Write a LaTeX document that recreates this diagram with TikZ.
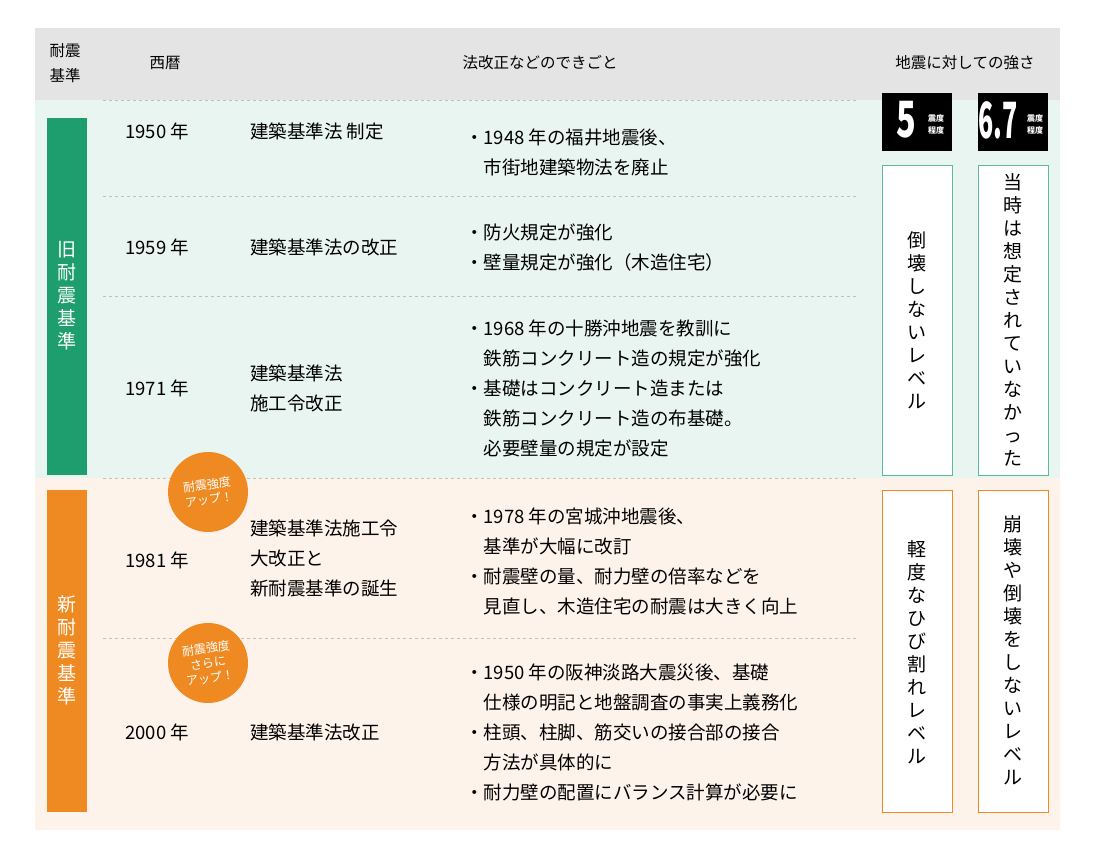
\documentclass[tikz,border=0pt]{standalone}
\usepackage{fontspec}
\setmainfont{Noto Sans CJK JP}
\usetikzlibrary{calc}
\definecolor{oldgreen}{HTML}{1E9E6E}
\definecolor{oldbg}{HTML}{E8F5F0}
\definecolor{newor}{HTML}{EF8A22}
\definecolor{newbg}{HTML}{FDF3EA}
\definecolor{headgray}{HTML}{E4E4E4}
\definecolor{boxgreen}{HTML}{5DBB93}
\tikzset{
  txt/.style={anchor=west,inner sep=0pt,font=\fontsize{18.5}{30}\selectfont,align=left},
  head/.style={inner sep=0pt,font=\fontsize{15.5}{25}\selectfont,align=center},
  bartxt/.style={inner sep=0pt,text=white,font=\fontsize{19}{23}\selectfont,align=center},
  vtxt/.style={inner sep=0pt,font=\fontsize{19}{23}\selectfont,align=center},
  badge/.style={circle,fill=newor,minimum size=80pt,inner sep=0pt,text=white,
    font=\fontsize{12}{15}\selectfont,align=center,rotate=8},
  sep/.style={dashed,draw=gray!50,line width=0.6pt},
  magbox/.style={fill=black,minimum width=70pt,minimum height=58pt,inner sep=0pt},
}
\begin{document}
\begin{tikzpicture}[x=1pt,y=-1pt]
\useasboundingbox (0,0) rectangle (1095,859);
% backgrounds
\fill[headgray] (35,28) rectangle (1060,100);
\fill[oldbg] (35,100) rectangle (1060,478);
\fill[newbg] (35,478) rectangle (1060,830);
\fill[oldgreen] (47,118) rectangle (87,475);
\fill[newor] (47,490) rectangle (87,812);
\node[bartxt] (oldlbl) at (67,296) {旧\\耐\\震\\基\\準};
\node[bartxt] (newlbl) at (67,650) {新\\耐\\震\\基\\準};
% header
\node[head] (hkind) at (65,63) {耐震\\基準};
\node[head] (hyear) at (165,63) {西暦};
\node[head] (hevent) at (540,63) {法改正などのできごと};
\node[head] (hpower) at (965,63) {地震に対しての強さ};
% row separators
\foreach \y in {196,296,638} \draw[sep] (103,\y) -- (857,\y);
\draw[sep] (103,100) -- (857,100);
\draw[sep] (103,478) -- (857,478);
% rows
\node[txt] (y1950) at (125,131) {1950 年};
\node[txt] (l1950) at (250,131) {建築基準法 制定};
\node[txt] (e1950) at (465,152) {・1948 年の福井地震後、\\　市街地建築物法を廃止};
\node[txt] (y1959) at (125,247) {1959 年};
\node[txt] (l1959) at (250,247) {建築基準法の改正};
\node[txt] (e1959) at (465,248) {・防火規定が強化\\・壁量規定が強化（木造住宅）};
\node[txt] (y1971) at (125,388) {1971 年};
\node[txt] (l1971) at (250,388) {建築基準法\\施工令改正};
\node[txt] (e1971) at (465,388) {・1968 年の十勝沖地震を教訓に\\　鉄筋コンクリート造の規定が強化\\・基礎はコンクリート造または\\　鉄筋コンクリート造の布基礎。\\　必要壁量の規定が設定};
\node[txt] (y1981) at (125,560) {1981 年};
\node[txt] (l1981) at (250,558) {建築基準法施工令\\大改正と\\新耐震基準の誕生};
\node[txt] (e1981) at (465,561) {・1978 年の宮城沖地震後、\\　基準が大幅に改訂\\・耐震壁の量、耐力壁の倍率などを\\　見直し、木造住宅の耐震は大きく向上};
\node[txt] (y2000) at (125,732) {2000 年};
\node[txt] (l2000) at (250,732) {建築基準法改正};
\node[txt] (e2000) at (465,732) {・1950 年の阪神淡路大震災後、基礎\\　仕様の明記と地盤調査の事実上義務化\\・柱頭、柱脚、筋交いの接合部の接合\\　方法が具体的に\\・耐力壁の配置にバランス計算が必要に};
% badges
\node[badge] (up1) at (208,492) {耐震強度\\アップ！};
\node[badge] (up2) at (208,663) {耐震強度\\さらに\\アップ！};
% strength column
\node[magbox] (m5) at (917,122) {};
\node[text=white,inner sep=0pt,font=\fontsize{50}{50}\selectfont\bfseries,xscale=0.65] (n5) at (906,120) {5};
\node[text=white,inner sep=0pt,font=\fontsize{8}{12}\selectfont\bfseries,align=center] (u5) at (936,124) {震度\\程度};
\node[magbox] (m67) at (1013,122) {};
\node[text=white,inner sep=0pt,font=\fontsize{50}{50}\selectfont\bfseries,xscale=0.5] (n67) at (998,120) {6.7};
\node[text=white,inner sep=0pt,font=\fontsize{8}{12}\selectfont\bfseries,align=center] (u67) at (1035,124) {震度\\程度};
\draw[boxgreen,fill=white,line width=0.8pt] (882,165) rectangle (952,475);
\draw[boxgreen,fill=white,line width=0.8pt] (978,165) rectangle (1048,475);
\draw[newor,fill=white,line width=0.8pt] (882,490) rectangle (952,812);
\draw[newor,fill=white,line width=0.8pt] (978,490) rectangle (1048,812);
\node[vtxt] (s5old) at (917,320) {倒\\壊\\し\\な\\い\\レ\\ベ\\ル};
\node[vtxt] (s67old) at (1013,320) {当\\時\\は\\想\\定\\さ\\れ\\て\\い\\な\\か\\っ\\た};
\node[vtxt] (s5new) at (917,652) {軽\\度\\な\\ひ\\び\\割\\れ\\レ\\ベ\\ル};
\node[vtxt] (s67new) at (1013,650) {崩\\壊\\や\\倒\\壊\\を\\し\\な\\い\\レ\\ベ\\ル};
\end{tikzpicture}
\end{document}
